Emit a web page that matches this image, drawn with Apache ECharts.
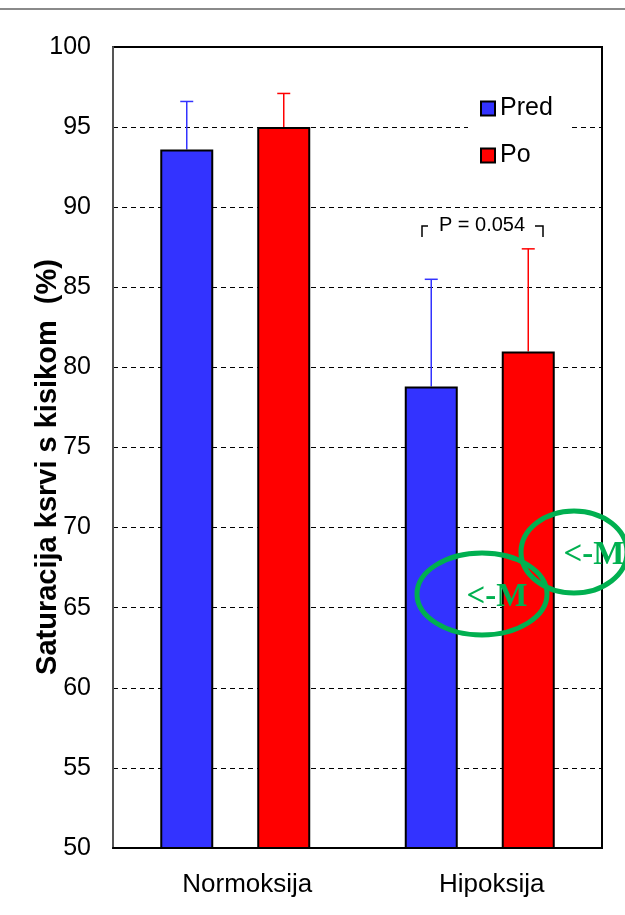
<!DOCTYPE html>
<html>
<head>
<meta charset="utf-8">
<script src="https://cdn.jsdelivr.net/npm/echarts@6/dist/echarts.min.js"></script>
<style>
  html, body { margin: 0; padding: 0; background: #fff; }
  #chart { width: 625px; height: 915px; }
</style>
</head>
<body>
<div id="chart"></div>
<script>
// Oxygen saturation before/after, normoxia vs hypoxia
const categories = ['Normoksija', 'Hipoksija'];
const seriesNames = ['Pred', 'Po'];
const predValues = [93.6, 78.8];
const poValues = [95.0, 81.0];
const predErr = [3.0, 6.7];
const poErr = [2.1, 6.4];
const yTicks = [50, 55, 60, 65, 70, 75, 80, 85, 90, 95, 100];
const yTitle = 'Saturacija ksrvi s kisikom  (%)';
const pLabel = 'P = 0.054';
const calloutLabel = '<-M';

const BLUE = '#3333FF';
const RED = '#FF0000';
const GREEN = '#00B050';
const FONT = '"Liberation Sans", Arial, sans-serif';
const SERIF = '"Liberation Serif", "DejaVu Serif", serif';

const chart = echarts.init(document.getElementById('chart'));

// error bar drawn above each bar, offset to the bar's own slot in the group
function errorSeries(values, errs, color, offset) {
  return {
    type: 'custom',
    name: 'err-' + color,
    data: values.map((v, i) => [i, v, v + errs[i]]),
    z: 1,
    renderItem: function (params, api) {
      const base = api.coord([api.value(0), api.value(1)]);
      const top = api.coord([api.value(0), api.value(2)]);
      const bw = api.size([1, 0])[0];
      const x = base[0] + offset * bw;
      const half = 6.5;
      return {
        type: 'group',
        children: [
          { type: 'line', shape: { x1: x, y1: base[1], x2: x, y2: top[1] },
            style: { stroke: color, lineWidth: 1.5 } },
          { type: 'line', shape: { x1: x - half, y1: top[1], x2: x + half, y2: top[1] },
            style: { stroke: color, lineWidth: 1.5 } }
        ]
      };
    }
  };
}

const option = {
  backgroundColor: '#fff',
  animation: false,
  grid: { left: 113, right: 23, top: 47, bottom: 67, show: true, borderColor: '#000', borderWidth: 2 },
  legend: {
    data: seriesNames,
    orient: 'vertical',
    left: 468, top: 92,
    itemWidth: 14, itemHeight: 14, itemGap: 22,
    backgroundColor: '#fff',
    padding: [4, 16, 4, 12],
    textStyle: { fontFamily: FONT, fontSize: 25, lineHeight: 25, color: '#000' },
    icon: 'rect'
  },
  xAxis: {
    type: 'category',
    data: categories,
    axisLine: { lineStyle: { color: '#000', width: 2 } },
    axisTick: { show: false },
    axisLabel: { fontFamily: FONT, fontSize: 26, color: '#000', margin: 24, padding: [0, 0, 0, 24] }
  },
  yAxis: {
    type: 'value',
    min: yTicks[0], max: yTicks[yTicks.length - 1], interval: 5,
    axisLine: { show: true, lineStyle: { color: '#555', width: 2 } },
    axisTick: { show: false },
    axisLabel: { fontFamily: FONT, fontSize: 25, color: '#000', margin: 22 },
    splitLine: { lineStyle: { color: '#000', type: [5, 4], width: 1 } }
  },
  series: [
    {
      name: seriesNames[0], type: 'bar', data: predValues,
      barWidth: 53, barGap: '83%', z: 2,
      itemStyle: { color: BLUE, borderColor: '#000', borderWidth: 2 }
    },
    {
      name: seriesNames[1], type: 'bar', data: poValues,
      barWidth: 53, z: 2,
      itemStyle: { color: RED, borderColor: '#000', borderWidth: 2 }
    },
    errorSeries(predValues, predErr, BLUE, -97 / 489),
    errorSeries(poValues, poErr, RED, 48.5 / 244.5)
  ],
  graphic: [
    // thin rule across the top of the page
    { type: 'rect', shape: { x: 0, y: 8, width: 625, height: 2 }, style: { fill: '#8a8a8a' } },
    // y axis title
    { type: 'text', x: 48, y: 467, rotation: Math.PI / 2,
      style: { text: yTitle, fontFamily: FONT, fontSize: 29, fontWeight: 'bold', fill: '#000',
               textAlign: 'center', textVerticalAlign: 'middle' } },
    // significance bracket
    { type: 'polyline', shape: { points: [[422, 237], [422, 226], [428, 226]] },
      style: { stroke: '#000', lineWidth: 1.5, fill: null } },
    { type: 'polyline', shape: { points: [[535, 226], [543, 226], [543, 237]] },
      style: { stroke: '#000', lineWidth: 1.5, fill: null } },
    { type: 'text', x: 482, y: 225,
      style: { text: pLabel, fontFamily: FONT, fontSize: 20, fill: '#000', textAlign: 'center', textVerticalAlign: 'middle' } },
    // "<-M" callouts
    { type: 'ellipse', shape: { cx: 482, cy: 594, rx: 65, ry: 41 }, z: 10,
      style: { stroke: GREEN, lineWidth: 5, fill: null } },
    { type: 'text', x: 497, y: 597, z: 10,
      style: { text: calloutLabel, fontFamily: SERIF, fontSize: 33, fontWeight: 'bold', fill: GREEN, textAlign: 'center', textVerticalAlign: 'middle' } },
    { type: 'ellipse', shape: { cx: 574, cy: 552, rx: 53, ry: 41 }, z: 10,
      style: { stroke: GREEN, lineWidth: 5, fill: null } },
    { type: 'text', x: 594, y: 555, z: 10,
      style: { text: calloutLabel, fontFamily: SERIF, fontSize: 33, fontWeight: 'bold', fill: GREEN, textAlign: 'center', textVerticalAlign: 'middle' } }
  ]
};

chart.setOption(option);
</script>
</body>
</html>
